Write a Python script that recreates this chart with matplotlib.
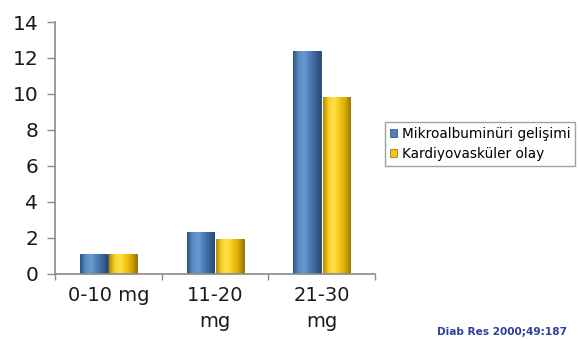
import numpy as np
import matplotlib
matplotlib.use("Agg")
import matplotlib.pyplot as plt
from matplotlib.colors import LinearSegmentedColormap
from matplotlib.patches import Patch

plt.rcParams['font.family'] = ['DejaVu Sans']

categories = ["0-10 mg", "11-20\nmg", "21-30\nmg"]
mikroalbuminuri = [1.1, 2.3, 12.4]
kardiyovaskuler = [1.1, 1.9, 9.8]
series_names = ["Mikroalbuminüri gelişimi", "Kardiyovasküler olay"]
y_ticks = [0, 2, 4, 6, 8, 10, 12, 14]

blue_cmap = LinearSegmentedColormap.from_list(
    "blue_cyl", ["#2d5585", "#5c8cc6", "#6b9ad2", "#4f7eb8", "#3a6498", "#284a74"])
yellow_cmap = LinearSegmentedColormap.from_list(
    "yellow_cyl", ["#b38c00", "#f7d22a", "#ffe04a", "#f2c612", "#d9aa00", "#9c7800"])

fig = plt.figure(figsize=(5.79, 3.39), dpi=100)
ax = fig.add_axes([0.095, 0.193, 0.553, 0.742])

x = np.arange(len(categories))
width = 0.26
gap = 0.015
grad = np.linspace(0, 1, 64).reshape(1, -1)


def shaded_bars(xpos, heights, cmap, edge):
    bars = ax.bar(xpos, heights, width=width, color=cmap(0.5), edgecolor=edge,
                  linewidth=0.6, zorder=2)
    for b in bars:
        x0, y0 = b.get_x(), b.get_y()
        im = ax.imshow(grad, cmap=cmap, aspect='auto', zorder=2.5,
                       extent=[x0, x0 + b.get_width(), y0, y0 + b.get_height()])
        im.set_clip_path(b)
    return bars


shaded_bars(x - width / 2 - gap / 2, mikroalbuminuri, blue_cmap, "#24446c")
shaded_bars(x + width / 2 + gap / 2, kardiyovaskuler, yellow_cmap, "#8a6a00")

ax.set_xlim(-0.5, len(categories) - 0.5)
ax.set_ylim(0, 14)
ax.set_yticks(y_ticks)
ax.set_yticklabels([str(v) for v in y_ticks])
ax.set_xticks(x)
ax.set_xticklabels(categories, linespacing=1.45)
ax.set_xticks(np.arange(len(categories) + 1) - 0.5, minor=True)

for s in ("top", "right"):
    ax.spines[s].set_visible(False)
for s in ("left", "bottom"):
    ax.spines[s].set_color("#8a8a8a")
    ax.spines[s].set_linewidth(1.2)

ax.tick_params(axis='y', length=6, width=1.0, color="#8a8a8a", pad=6,
               labelsize=14.5, labelcolor="#1a1a1a")
ax.tick_params(axis='x', which='major', length=0, pad=9,
               labelsize=14, labelcolor="#1a1a1a")
ax.tick_params(axis='x', which='minor', length=4, width=1.0, color="#8a8a8a")

handles = [Patch(facecolor="#4f7eb8", edgecolor="#24446c", linewidth=0.5),
           Patch(facecolor="#f2c612", edgecolor="#8a6a00", linewidth=0.5)]
leg = fig.legend(handles, series_names, loc="upper left",
                 bbox_to_anchor=(385 / 579, 1 - 122 / 339),
                 fontsize=9.8, frameon=True, fancybox=False,
                 handlelength=0.55, handleheight=0.55, handletextpad=0.35,
                 borderpad=0.35, labelspacing=0.45, borderaxespad=0)
leg.get_frame().set_edgecolor("#8a8a8a")
leg.get_frame().set_linewidth(1.0)

fig.text(437 / 579, 1 - 327 / 339, "Diab Res 2000;49:187", color="#2a3f9a",
         fontsize=7.6, fontweight="bold", ha="left", va="top")

fig.savefig("out.png", dpi=100)
